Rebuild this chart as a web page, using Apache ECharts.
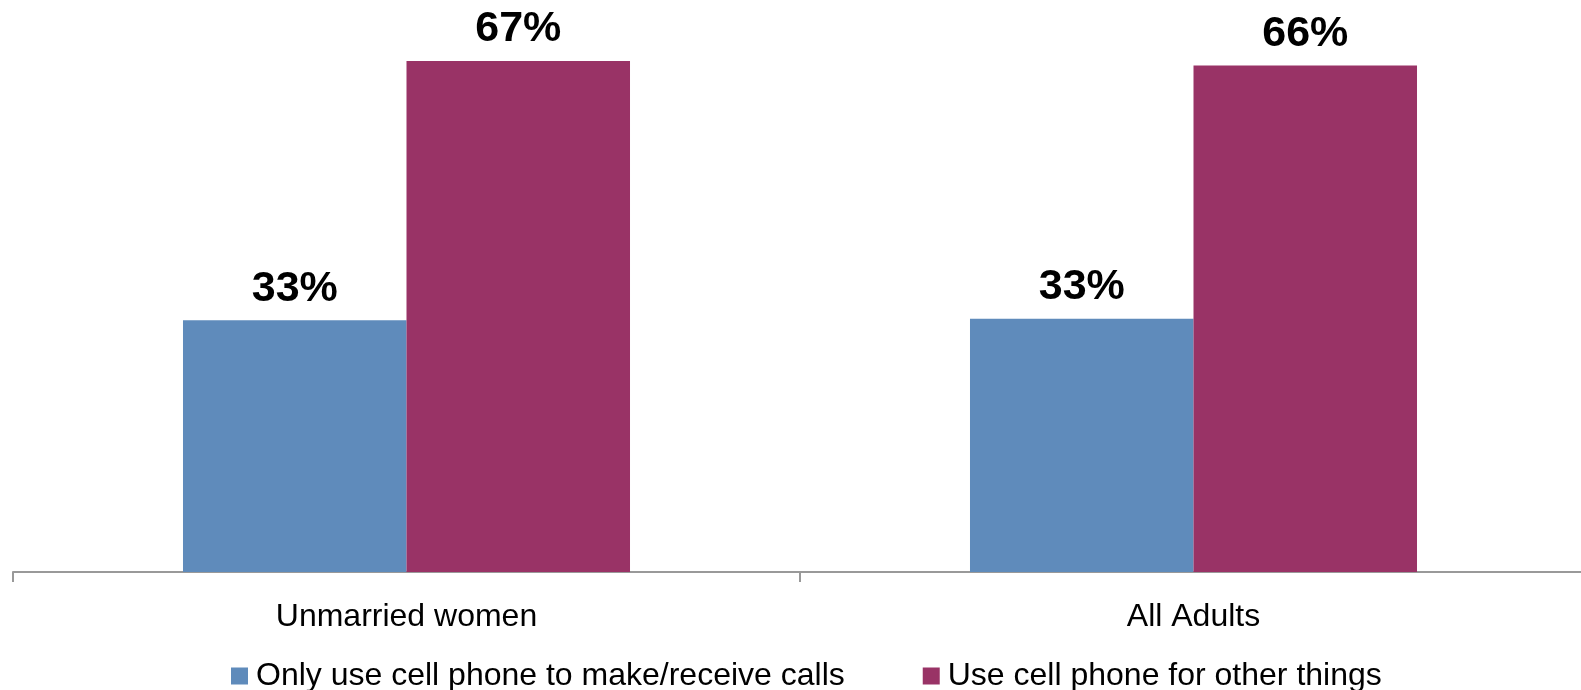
<!DOCTYPE html>
<html>
<head>
<meta charset="utf-8">
<script src="https://cdn.jsdelivr.net/npm/echarts@6/dist/echarts.min.js"></script>
<style>
  html, body { margin: 0; padding: 0; background: #fff; }
  #chart { width: 1581px; height: 690px; }
</style>
</head>
<body>
<div id="chart"></div>
<script>
// groupes et valeurs
const categories = ['Unmarried women', 'All Adults'];
const onlyCalls = [33, 33.2];
const otherThings = [67, 66.4];
const seriesNames = ['Only use cell phone to make/receive calls', 'Use cell phone for other things'];

const FONT = '"Liberation Sans", Arial, sans-serif';

let chart = echarts.init(document.getElementById('chart'));

function barLabel() {
    return {
        show: true,
        position: 'top',
        distance: 10,
        formatter: p => Math.round(p.value) + '%',
        fontFamily: FONT,
        fontSize: 43,
        fontWeight: 'bold',
        color: '#000'
    };
}

let option = {
    animation: false,
    grid: {
        left: 13,
        width: 1574,
        top: 0,
        height: 572,
        containLabel: false,
        outerBoundsMode: 'none'
    },
    legend: {
        top: 660,
        left: 231,
        padding: 0,
        icon: 'rect',
        itemWidth: 17,
        itemHeight: 17,
        itemGap: 78,
        textStyle: { fontFamily: FONT, fontSize: 32, color: '#000', padding: [0, 0, 0, 3] },
        data: seriesNames
    },
    xAxis: {
        type: 'category',
        data: categories,
        axisLine: { lineStyle: { color: '#999999', width: 2 } },
        axisTick: { show: true, length: 10, lineStyle: { color: '#999999', width: 2 } },
        axisLabel: { margin: 29, fontFamily: FONT, fontSize: 32, color: '#000' }
    },
    yAxis: {
        type: 'value',
        min: 0,
        max: 75,
        show: false,
        splitLine: { show: false }
    },
    series: [
        {
            name: seriesNames[0],
            type: 'bar',
            data: onlyCalls,
            barWidth: '28.4%',
            barGap: '0%',
            itemStyle: { color: '#5F8BBB' },
            label: barLabel()
        },
        {
            name: seriesNames[1],
            type: 'bar',
            data: otherThings,
            barWidth: '28.4%',
            itemStyle: { color: '#993366' },
            label: barLabel()
        }
    ]
};

chart.setOption(option);
</script>
</body>
</html>
